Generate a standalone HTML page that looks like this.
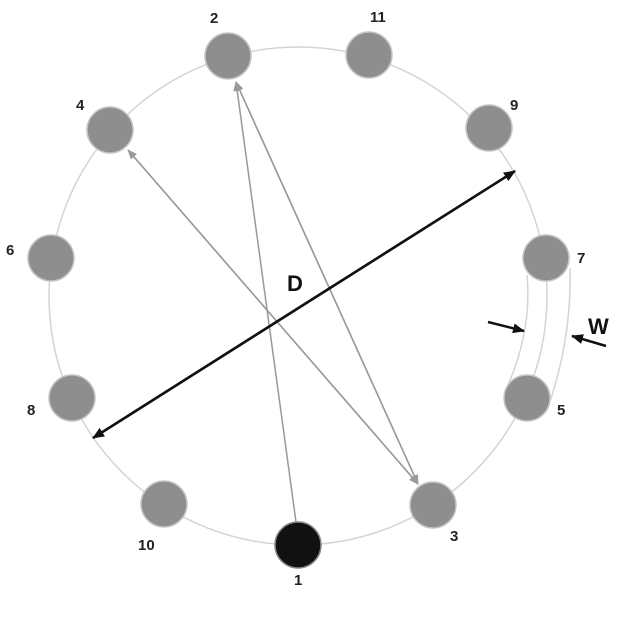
<!DOCTYPE html>
<html><head><style>body{margin:0;background:#fff}svg{display:block}</style></head><body>
<svg width="618" height="618" viewBox="0 0 618 618" xmlns="http://www.w3.org/2000/svg" font-family="Liberation Sans, sans-serif" font-weight="bold">
<defs>
<marker id="ga" markerWidth="10" markerHeight="8" refX="9" refY="4" orient="auto" markerUnits="userSpaceOnUse"><path d="M0,0 L10,4 L0,8 Z" fill="#999"/></marker>
<marker id="ba" markerWidth="12" markerHeight="10" refX="11" refY="5" orient="auto" markerUnits="userSpaceOnUse"><path d="M0,0 L12,5 L0,10 Z" fill="#111"/></marker>
</defs>
<circle cx="298" cy="296" r="249" fill="none" stroke="#d4d4d4" stroke-width="1.5"/>
<path d="M527,275 Q532,330 508,385" fill="none" stroke="#d4d4d4" stroke-width="1.5"/>
<path d="M570,268 Q572,340 547,410" fill="none" stroke="#d4d4d4" stroke-width="1.5"/>
<line x1="296" y1="522" x2="236" y2="82" stroke="#999" stroke-width="1.5" marker-end="url(#ga)"/>
<line x1="418" y1="484" x2="236" y2="82" stroke="#999" stroke-width="1.5" marker-end="url(#ga)"/>
<line x1="236" y1="82" x2="418" y2="484" stroke="#999" stroke-width="1.5" marker-end="url(#ga)"/>
<line x1="418" y1="484" x2="128" y2="150" stroke="#999" stroke-width="1.5" marker-end="url(#ga)"/>
<line x1="128" y1="150" x2="418" y2="484" stroke="#999" stroke-width="1.5" marker-end="url(#ga)"/>
<line x1="93" y1="438" x2="515" y2="171" stroke="#111" stroke-width="2.5" marker-end="url(#ba)"/>
<line x1="515" y1="171" x2="93" y2="438" stroke="#111" stroke-width="2.5" marker-end="url(#ba)"/>
<line x1="488" y1="322" x2="524" y2="331" stroke="#111" stroke-width="2.5" marker-end="url(#ba)"/>
<line x1="606" y1="346" x2="572" y2="336" stroke="#111" stroke-width="2.5" marker-end="url(#ba)"/>
<g fill="#8e8e8e" stroke="#c4c4c4" stroke-width="1.5">
<circle cx="228" cy="56" r="23"/><circle cx="369" cy="55" r="23"/><circle cx="489" cy="128" r="23"/>
<circle cx="546" cy="258" r="23"/><circle cx="527" cy="398" r="23"/><circle cx="433" cy="505" r="23"/>
<circle cx="164" cy="504" r="23"/><circle cx="72" cy="398" r="23"/><circle cx="51" cy="258" r="23"/>
<circle cx="110" cy="130" r="23"/>
</g>
<circle cx="298" cy="545" r="23" fill="#111" stroke="#888" stroke-width="1.5"/>
<g font-size="15" fill="#222">
<text x="210" y="23">2</text><text x="370" y="22">11</text><text x="510" y="110">9</text>
<text x="577" y="263">7</text><text x="557" y="415">5</text><text x="450" y="541">3</text>
<text x="294" y="585">1</text><text x="138" y="550">10</text><text x="27" y="415">8</text>
<text x="6" y="255">6</text><text x="76" y="110">4</text>
</g>
<text x="287" y="291" font-size="22" fill="#111">D</text>
<text x="588" y="334" font-size="22" fill="#111">W</text>
</svg>
</body></html>
